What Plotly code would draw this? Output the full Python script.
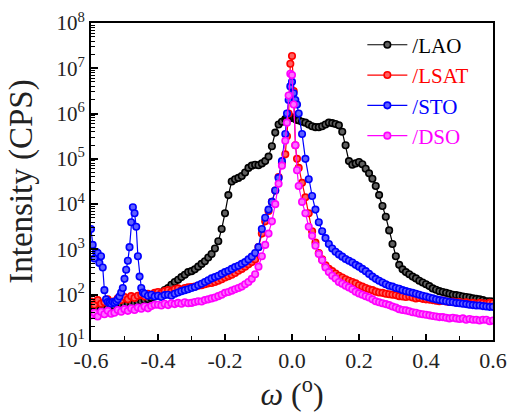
import plotly.graph_objects as go

# omega grid (degrees) shared by LAO, LSAT, DSO
omega = [
    -0.60, -0.59, -0.58, -0.57, -0.56, -0.55, -0.54, -0.53, -0.52, -0.51,
    -0.50, -0.49, -0.48, -0.47, -0.46, -0.45, -0.44, -0.43, -0.42, -0.41,
    -0.40, -0.39, -0.38, -0.37, -0.36, -0.35, -0.34, -0.33, -0.32, -0.31,
    -0.30, -0.29, -0.28, -0.27, -0.26, -0.25, -0.24, -0.23, -0.22, -0.21,
    -0.20, -0.19, -0.18, -0.17, -0.16, -0.15, -0.14, -0.13, -0.12, -0.11,
    -0.10, -0.09, -0.08, -0.07, -0.06, -0.05, -0.04, -0.03,
    -0.02, -0.015, -0.01, -0.005, 0.00, 0.005, 0.01, 0.015, 0.02,
    0.03, 0.04, 0.05, 0.06, 0.07, 0.08, 0.09,
    0.10, 0.11, 0.12, 0.13, 0.14, 0.15, 0.16, 0.17, 0.18, 0.19,
    0.20, 0.21, 0.22, 0.23, 0.24, 0.25, 0.26, 0.27, 0.28, 0.29,
    0.30, 0.31, 0.32, 0.33, 0.34, 0.35, 0.36, 0.37, 0.38, 0.39,
    0.40, 0.41, 0.42, 0.43, 0.44, 0.45, 0.46, 0.47, 0.48, 0.49,
    0.50, 0.51, 0.52, 0.53, 0.54, 0.55, 0.56, 0.57, 0.58, 0.59,
    0.60,
]

# finer omega points for the STO substrate peak region
omega_sto_left = [
    -0.600, -0.595, -0.590, -0.585, -0.580, -0.575, -0.570, -0.565,
    -0.560, -0.555, -0.550, -0.545, -0.540, -0.535, -0.530, -0.525,
    -0.520, -0.515, -0.510, -0.505, -0.500, -0.495, -0.490, -0.485,
    -0.480, -0.475, -0.470, -0.465, -0.460, -0.455, -0.450, -0.445,
]

lao = [
    50, 48, 52, 50, 54, 52, 56, 55, 58, 60,
    59, 63, 62, 66, 69, 71, 76, 79, 85, 91,
    100, 112, 126, 141, 166, 191, 214, 245, 275, 316,
    331, 363, 417, 479, 550, 661, 794, 1047, 1514, 2818,
    6310, 15850, 31620, 35480, 38020, 41690, 50120, 63100, 70800, 74130,
    72440, 79430, 89130, 112200, 190500, 380200, 575400, 660700,
    758600, 794300, 831800, 794300, 831800, 794300, 758600, 724400, 707900,
    660700, 631000, 575400, 524800, 501200, 501200, 524800,
    575400, 631000, 616600, 588800, 549500, 398100, 199500, 89130, 74130, 79430,
    85110, 75860, 60260, 47860, 36310, 25120, 15850, 9120, 5250, 2630,
    1318, 708, 457, 363, 316, 282, 251, 229, 204, 186,
    170, 155, 138, 129, 120, 115, 110, 105, 100, 98,
    95, 91, 89, 87, 83, 81, 79, 76, 72, 72,
    71,
]

lsat = [
    71, 60, 76, 63, 68, 79, 66, 72, 83, 76,
    89, 79, 93, 85, 95, 100, 91, 105, 98, 110,
    115, 107, 120, 126, 117, 132, 138, 129, 141, 145,
    148, 151, 158, 162, 170, 178, 182, 191, 204, 219,
    240, 257, 275, 302, 339, 372, 417, 468, 525, 603,
    1122, 2239, 4169, 7079, 11220, 19950, 39810, 79430,
    125900, 316200, 1000000, 12590000, 18620000, 3162000, 199500, 100000, 63100,
    29510, 14130, 6310, 2512, 1413, 832, 603,
    447, 372, 331, 295, 263, 240, 219, 204, 191, 178,
    162, 151, 141, 132, 126, 117, 112, 110, 105, 102,
    100, 98, 93, 91, 89, 91, 87, 83, 85, 81,
    79, 78, 76, 74, 72, 74, 71, 69, 71, 68,
    69, 66, 68, 65, 66, 63, 66, 65, 63, 66,
    65,
]

sto_left = [
    2818, 1259, 631, 891, 832, 501, 708, 398,
    126, 79, 69, 66, 63, 69, 66, 72,
    79, 91, 112, 141, 224, 355, 562, 1122,
    3981, 8511, 6310, 3162, 708, 251, 141, 112,
]

sto = [
    105, 95, 100, 91, 95, 89, 98, 100, 95, 105,
    112, 120, 126, 132, 141, 148, 162, 174, 191, 209,
    229, 245, 263, 288, 316, 339, 372, 407, 437, 479,
    525, 603, 692, 832, 1122, 2818, 5012, 7586, 11220, 19950,
    38020, 89130,
    354800, 1000000, 1995000, 3981000, 5012000, 2818000, 1995000, 1585000, 1000000,
    354800, 100000, 35480, 15140, 7586, 3981, 2512,
    1778, 1318, 1047, 891, 776, 692, 617, 562, 513, 457,
    417, 372, 331, 288, 251, 224, 204, 186, 170, 158,
    151, 141, 135, 126, 120, 115, 110, 105, 100, 95,
    91, 87, 83, 79, 76, 74, 72, 69, 68, 66,
    65, 63, 62, 60, 59, 58, 58, 56, 55, 54,
    54,
]

dso = [
    35, 40, 33, 42, 37, 44, 38, 40, 46, 42,
    48, 44, 50, 46, 52, 49, 55, 50, 56, 60,
    60, 58, 63, 59, 65, 62, 66, 63, 68, 65,
    66, 69, 72, 71, 76, 79, 83, 87, 93, 100,
    110, 115, 123, 132, 141, 151, 170, 191, 224, 282,
    417, 708, 1259, 2239, 4169, 10000, 28180, 70790,
    251200, 631000, 2512000, 7586000, 7079000, 1585000, 199500, 56230, 25120,
    11220, 6310, 3162, 1995, 1202, 794, 575,
    398, 316, 263, 229, 191, 174, 158, 145, 132, 117,
    107, 100, 93, 87, 79, 72, 68, 65, 62, 59,
    55, 52, 48, 46, 45, 43, 41, 40, 38, 37,
    36, 35, 34, 33, 32, 32, 31, 30, 31, 30,
    29, 30, 28, 29, 28, 28, 27, 28, 28, 26,
    27,
]

series_names = ["/LAO", "/LSAT", "/STO", "/DSO"]
x_tick_vals = [-0.6, -0.4, -0.2, 0.0, 0.2, 0.4, 0.6]
x_tick_text = ["-0.6", "-0.4", "-0.2", "0.0", "0.2", "0.4", "0.6"]
y_tick_vals = [10, 100, 1e3, 1e4, 1e5, 1e6, 1e7, 1e8]
y_tick_text = ["10<sup>1</sup>", "10<sup>2</sup>", "10<sup>3</sup>", "10<sup>4</sup>",
               "10<sup>5</sup>", "10<sup>6</sup>", "10<sup>7</sup>", "10<sup>8</sup>"]

omega_sto = omega_sto_left + [w for w in omega if w >= -0.44]
sto_all = sto_left + sto

colors = ["#000000", "#ff0000", "#0000ff", "#ff00ff"]
fills = ["#606060", "#ff6060", "#6060ff", "#ff70ff"]
xs = [omega, omega, omega_sto, omega]
ys = [lao, lsat, sto_all, dso]

# minor tick positions for the log axis (2..9 in each decade)
y_minor = [m * 10 ** d for d in range(1, 8) for m in range(2, 10)]

FONT = "Liberation Serif"
fig = go.Figure()
for name, x, y, c, f in zip(series_names, xs, ys, colors, fills):
    fig.add_trace(go.Scatter(
        x=x, y=y, mode="lines+markers",
        name=f"<span style='color:{c}'>{name}</span>",
        line=dict(color=c, width=1.2),
        marker=dict(symbol="circle", size=6.5, color=f, line=dict(color=c, width=1.6)),
    ))

fig.update_layout(
    width=509, height=412,
    margin=dict(l=91, r=16, t=23, b=72, autoexpand=False),
    paper_bgcolor="white", plot_bgcolor="white",
    font=dict(family=FONT, color="#222", size=21),
    showlegend=True,
    legend=dict(
        x=0.675, y=0.995, xanchor="left", yanchor="top",
        bgcolor="rgba(0,0,0,0)", font=dict(family=FONT, size=21),
        tracegroupgap=0, itemwidth=40,
    ),
)
fig.update_xaxes(
    range=[-0.6, 0.6], tickvals=x_tick_vals, ticktext=x_tick_text,
    ticks="inside", ticklen=6, tickwidth=1.5, tickcolor="black",
    minor=dict(ticks="inside", ticklen=4, tickwidth=1.2, dtick=0.1, tick0=0, tickcolor="black"),
    showline=True, linecolor="black", linewidth=2, mirror=True,
    showgrid=False, zeroline=False, automargin=False,
    tickfont=dict(family=FONT, size=22, color="#222"),
    title=dict(text="<i>ω</i> (<sup>o</sup>)", font=dict(family=FONT, size=32, color="#222"), standoff=1),
)
fig.update_yaxes(
    type="log", range=[1, 8], tickvals=y_tick_vals, ticktext=y_tick_text,
    ticks="inside", ticklen=7, tickwidth=1.5, tickcolor="black",
    minor=dict(ticks="inside", ticklen=3.5, tickwidth=1, tickcolor="black",
               tickmode="array", tickvals=y_minor),
    showline=True, linecolor="black", linewidth=2, mirror=True,
    showgrid=False, zeroline=False, automargin=False,
    tickfont=dict(family=FONT, size=21, color="#222"),
    title=dict(text="Intensity (CPS)", font=dict(family=FONT, size=33, color="#222"), standoff=14),
)

fig.write_html("out.html", config={"displayModeBar": False},
               post_script="document.body.style.margin='0px';")
